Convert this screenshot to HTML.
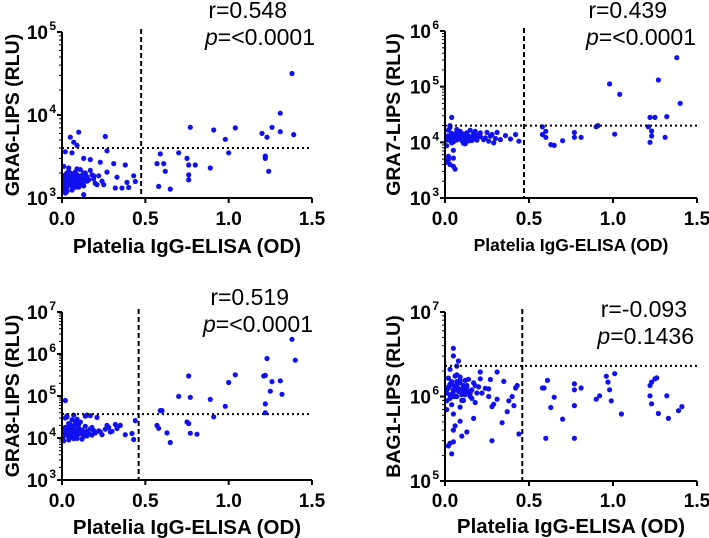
<!DOCTYPE html>
<html><head><meta charset="utf-8">
<style>
html,body{margin:0;padding:0;background:#fff;}
svg{display:block;font-family:"Liberation Sans",Arial,sans-serif;}
</style></head>
<body>
<svg id="chart" width="709" height="538" viewBox="0 0 709 538" xmlns="http://www.w3.org/2000/svg"></svg>
<script>
// ---- data (x = Platelia OD, y = LIPS RLU) ----
const xTickLabels = ["0.0","0.5","1.0","1.5"];
const xTickValues = [0,0.5,1.0,1.5];

const gra6X = [1.38,1.31,1.26,1.31,1.39,1.20,1.23,1.22,1.22,1.24,1.04,0.91,0.98,1.00,0.89,0.77,0.75,0.76,0.76,0.76,0.80,0.70,0.59,0.57,0.61,0.62,0.58,0.65,
 0.38,0.43,0.44,0.39,0.40,0.36,0.33,0.32,0.31,0.27,0.25,0.26,0.27,0.23,0.21,0.19,0.17,0.10,0.05,0.07,0.09,0.02,0.06,0.13,0.14,0.13,
 0.01,0.02,0.03,0.04,0.05,0.06,0.07,0.08,0.09,0.10,0.11,0.12,0.13,0.14,0.15,0.02,0.03,0.04,0.05,0.06,0.07,0.08,0.09,0.10,0.11,0.12,0.01,0.03,0.05,0.07,0.09,0.11,0.13,0.16,0.18,0.20,0.02,0.04,0.06,0.08,0.10,0.12,0.14,0.17,0.19,0.22,0.24,0.01,0.03,0.04,0.06,0.08,
 0.02,0.03,0.04,0.05,0.06,0.07,0.08,0.09,0.10,0.01,0.02,0.04,0.06,0.08,0.10,0.12,0.03,0.05,0.07,0.09,0.11,0.13,0.15,0.04,0.06,0.08];
const gra6Y = [31600,10500,7100,6300,5800,6000,5400,3200,3000,2100,7000,6600,5100,3500,2300,7100,3000,2500,1900,1650,2500,3500,3400,2600,2600,2100,1380,1280,
 2500,1850,1580,1540,1340,1320,1780,1320,2600,2050,1450,5500,3700,2700,1450,1850,2900,6200,5400,4700,4300,3600,3500,3000,2000,1100,
 1700,1900,1600,1800,2000,1500,1750,1650,1900,1400,1850,1550,1700,1600,1800,1300,1450,2100,1650,1250,1950,1500,1700,1600,2200,1450,2400,1350,1900,1550,2250,1750,1400,1650,1900,1500,1150,2300,1800,2050,1350,1600,1900,2150,1700,1850,1600,1450,1200,1550,1750,1350,
 1550,1800,1450,1700,1850,1600,1500,1750,1650,1850,1250,1650,1400,1950,1550,1700,2000,1600,1350,1800,1500,2000,1600,1900,1750,1400];

const gra7X = [1.38,0.98,1.04,1.27,1.40,1.22,1.25,1.32,1.21,1.23,1.23,1.22,1.31,0.91,0.90,1.01,0.77,0.77,0.81,0.70,0.63,0.65,0.60,0.58,0.58,0.60,
 0.44,0.42,0.39,0.36,0.33,0.31,0.27,0.25,0.29,0.23,0.21,0.04,0.05,0.06,0.02,0.03,0.01,0.02,0.05,
 0.01,0.02,0.03,0.04,0.05,0.06,0.07,0.08,0.09,0.10,0.11,0.12,0.13,0.14,0.15,0.16,0.17,0.18,0.19,0.20,0.02,0.04,0.06,0.08,0.10,0.12,0.14,0.16,0.18,0.03,0.05,0.07,0.09,0.11,0.13,0.15,0.17,0.19,0.21,0.01,0.03,0.05,0.07,0.09,0.12,0.15,0.24,0.26,0.28,0.30,
 0.02,0.03,0.04,0.05,0.06,0.07,0.08,0.09,0.10,0.11,0.01,0.03,0.05,0.07,0.09,0.11,0.13];
const gra7Y = [331000,112000,73000,132000,50000,28000,28000,29000,19000,16000,13000,10000,12300,20000,19000,14000,15000,12300,12300,10700,9100,8800,15800,19000,13800,12300,
 10500,13800,11500,13200,11200,15100,12900,15100,9800,11200,14800,28000,3700,3300,4900,4000,4400,5600,5200,
 11000,13000,12000,14500,10500,12500,15500,11800,13500,10800,12200,14000,11500,13000,12500,10800,14200,11800,12800,13500,16500,9800,12800,15000,11200,13600,10600,12000,15800,18500,10200,17000,12400,9600,14800,11600,13200,10900,12700,8700,20000,7200,11000,15800,9400,16500,12000,10500,13800,11700,
 12500,11000,13500,12000,14000,11500,13000,12200,14500,11800,13000,10800,12800,12000,13500,11200,12600];

const gra8X = [1.38,1.40,1.23,1.21,1.22,1.26,1.31,1.25,1.32,1.22,1.22,1.04,1.00,0.98,0.89,0.91,0.76,0.77,0.70,0.75,0.76,0.77,0.81,0.59,0.60,0.57,0.58,0.63,0.65,
 0.44,0.43,0.42,0.38,0.35,0.32,0.29,0.27,0.23,0.21,0.17,0.15,0.02,
 0.01,0.02,0.03,0.04,0.05,0.06,0.07,0.08,0.09,0.10,0.11,0.12,0.13,0.14,0.15,0.16,0.17,0.18,0.19,0.20,0.02,0.04,0.06,0.08,0.10,0.12,0.14,0.16,0.18,0.22,0.24,0.26,0.01,0.03,0.05,0.07,0.09,0.11,0.13,0.15,0.03,0.05,0.07,0.09,0.11,0.28,0.30,0.33,
 0.02,0.03,0.04,0.05,0.06,0.07,0.08,0.09,0.10,0.01,0.03,0.05,0.07,0.09,0.11,0.04,0.06,0.08];
const gra8Y = [2240000,710000,780000,300000,310000,220000,230000,130000,110000,65000,40000,320000,210000,57000,83000,32000,300000,93000,98000,24000,22000,13000,12300,45000,45000,20000,17000,13200,7800,
 26000,9200,12800,12000,20000,21000,14000,20000,14000,31000,34000,35000,78000,
 14000,18000,12000,22000,10500,16000,13000,25000,11500,17000,13500,15500,11000,19000,14500,12500,16500,11800,15000,13200,30000,9000,27000,10200,21000,9400,33000,12800,17800,14800,12000,16200,8600,34000,20500,35000,9800,24000,13800,11200,32000,15200,9600,28000,12600,18000,14400,16800,
 15500,12500,17500,13800,11500,19500,14800,12200,16000,11000,13000,15000,17000,12000,14000,10800,18500,21000];

const bag1X = [1.01,0.96,0.97,0.98,0.81,0.77,0.77,0.77,0.77,0.70,0.65,0.63,0.61,0.58,0.59,0.60,0.90,0.92,0.99,1.05,1.22,1.23,1.22,1.23,1.25,1.26,1.27,1.32,1.33,1.39,1.41,
 0.44,0.43,0.42,0.40,0.41,0.38,0.37,0.35,0.34,0.31,0.31,0.28,0.29,0.28,0.27,0.26,0.21,0.21,0.17,0.13,0.10,0.07,0.08,0.05,0.05,0.04,0.03,0.05,0.06,0.09,0.02,0.01,0.05,
 0.01,0.02,0.03,0.04,0.05,0.06,0.07,0.08,0.09,0.10,0.11,0.12,0.13,0.14,0.15,0.16,0.17,0.18,0.19,0.20,0.02,0.04,0.06,0.08,0.10,0.12,0.14,0.16,0.18,0.22,0.24,0.26,0.01,0.03,0.05,0.07,0.09,0.11,0.13,0.15,0.03,0.05,0.07,0.09,0.11,
 0.02,0.03,0.04,0.05,0.06,0.07,0.08,0.09,0.10,0.11,0.12,0.01,0.03,0.05,0.07,0.09,0.11,0.13];
const bag1Y = [1860000,1740000,1480000,1200000,1260000,1200000,1410000,780000,320000,540000,980000,740000,1550000,1260000,1260000,320000,930000,1020000,890000,620000,1020000,820000,1350000,1480000,1620000,1660000,630000,1020000,550000,680000,760000,
 360000,1350000,1260000,1000000,780000,890000,660000,1510000,490000,930000,1950000,760000,810000,300000,1590000,1230000,1950000,1620000,550000,380000,340000,2290000,2630000,3720000,3020000,210000,280000,400000,450000,510000,260000,890000,290000,
 1100000,1300000,950000,1500000,1200000,1000000,1400000,1150000,1700000,900000,1250000,1050000,1350000,1600000,1000000,1200000,1450000,850000,1100000,1300000,1650000,800000,1750000,1250000,1050000,1550000,1150000,950000,1350000,1100000,1250000,1000000,700000,1400000,1000000,1500000,1200000,900000,1300000,1100000,2100000,620000,1800000,750000,1100000,
 1250000,1050000,1400000,1150000,1300000,1000000,1200000,1450000,1100000,1350000,1150000,1200000,1350000,1050000,1250000,1550000,1300000,1100000];

const panels = [
 {id:"gra6", title:"GRA6-LIPS (RLU)", xs:gra6X, ys:gra6Y, L:62, T:32, R:312, B:198, dmin:3, dmax:5, cutX:0.475, cutY:4000, r:"r=0.548", p:"=<0.0001", rx:287, ry:18, px:315, py:45, ty:13, xlabY:225, xtY:253, xtSize:20.5},
 {id:"gra7", title:"GRA7-LIPS (RLU)", xs:gra7X, ys:gra7Y, L:445, T:31, R:697, B:198, dmin:3, dmax:6, cutX:0.47, cutY:20000, r:"r=0.439", p:"=<0.0001", rx:667, ry:18, px:696, py:45, ty:394, xlabY:225, xtY:251, xtSize:17.5},
 {id:"gra8", title:"GRA8-LIPS (RLU)", xs:gra8X, ys:gra8Y, L:62, T:312, R:312, B:480, dmin:3, dmax:7, cutX:0.46, cutY:37000, r:"r=0.519", p:"=<0.0001", rx:289, ry:305, px:313, py:332, ty:13, xlabY:507, xtY:534, xtSize:20.5},
 {id:"bag1", title:"BAG1-LIPS (RLU)", xs:bag1X, ys:bag1Y, L:445, T:312, R:697, B:481, dmin:5, dmax:7, cutX:0.46, cutY:2300000, r:"r=-0.093", p:"=0.1436", rx:687, ry:317, px:694, py:344, ty:394, xlabY:507, xtY:533, xtSize:20.5}
];

const NS="http://www.w3.org/2000/svg";
const svg=document.getElementById('chart');
function mk(tag,attrs,parent){const e=document.createElementNS(NS,tag);for(const k in attrs)e.setAttribute(k,attrs[k]);(parent||svg).appendChild(e);return e;}

panels.forEach(P=>{
  const g=mk('g',{});
  
  
  const xS=v=>P.L+(v/1.5)*(P.R-P.L);
  const yS=v=>P.B-(Math.log10(v)-P.dmin)/(P.dmax-P.dmin)*(P.B-P.T);
  const pts=mk('g',{fill:'#1010f0'},g);
  
  
  P.xs.forEach((x,i)=>{
    const c=mk('circle',{cx:xS(x).toFixed(1),cy:yS(P.ys[i]).toFixed(1),r:2.6},pts);
    
    
  });
  const vl=mk('line',{x1:xS(P.cutX),x2:xS(P.cutX),y1:P.T-3,y2:P.B,stroke:'#000','stroke-width':2,'stroke-dasharray':'5,3'},g);
  
  
  const hl=mk('line',{x1:P.L,x2:P.R,y1:yS(P.cutY),y2:yS(P.cutY),stroke:'#000','stroke-width':2,'stroke-dasharray':'2,3'},g);
  
  
  const ax=mk('path',{d:`M${P.L},${P.T} V${P.B} H${P.R}`,fill:'none',stroke:'#000','stroke-width':2},g);
  
  
  for(let d=P.dmin; d<=P.dmax; d++){
    const y=yS(Math.pow(10,d));
    mk('line',{x1:P.L-5,x2:P.L,y1:y,y2:y,stroke:'#000','stroke-width':2},g);
    const t=mk('text',{x:P.L-14,y:y+7,'text-anchor':'end','font-size':19,'font-weight':'bold'},g);
    t.textContent='10';
    
    
    const s=mk('text',{x:P.L-6,y:y-2,'text-anchor':'end','font-size':12,'font-weight':'bold'},g);
    s.textContent=String(d);
    if(d<P.dmax){ for(let m=2;m<=9;m++){const ym=yS(m*Math.pow(10,d)); mk('line',{x1:P.L-3,x2:P.L,y1:ym,y2:ym,stroke:'#000','stroke-width':1},g);} }
  }
  xTickValues.forEach((v,i)=>{
    const x=xS(v);
    mk('line',{x1:x,x2:x,y1:P.B,y2:P.B+5,stroke:'#000','stroke-width':2},g);
    const t=mk('text',{x:x,y:P.xlabY,'text-anchor':'middle','font-size':19,'font-weight':'bold'},g);
    t.textContent=xTickLabels[i];
    
    
  });
  const xt=mk('text',{x:(P.L+P.R)/2,y:P.xtY,'text-anchor':'middle','font-size':P.xtSize,'font-weight':'bold'},g);
  xt.textContent='Platelia IgG-ELISA (OD)';
  
  
  const cy=(P.T+P.B)/2;
  const yt=mk('text',{x:P.ty,y:cy,'text-anchor':'middle','font-size':19.5,'font-weight':'bold',transform:`rotate(-90 ${P.ty} ${cy})`,'dominant-baseline':'central'},g);
  yt.textContent=P.title;
  
  
  const rt=mk('text',{x:P.rx,y:P.ry,'text-anchor':'end','font-size':23},g);
  rt.textContent=P.r;
  
  
  const pt=mk('text',{x:P.px,y:P.py,'text-anchor':'end','font-size':23},g);
  const pi=mk('tspan',{'font-style':'italic'},pt); pi.textContent='p';
  const pr=mk('tspan',{},pt); pr.textContent=P.p;
  
  
});
</script>
</body></html>
